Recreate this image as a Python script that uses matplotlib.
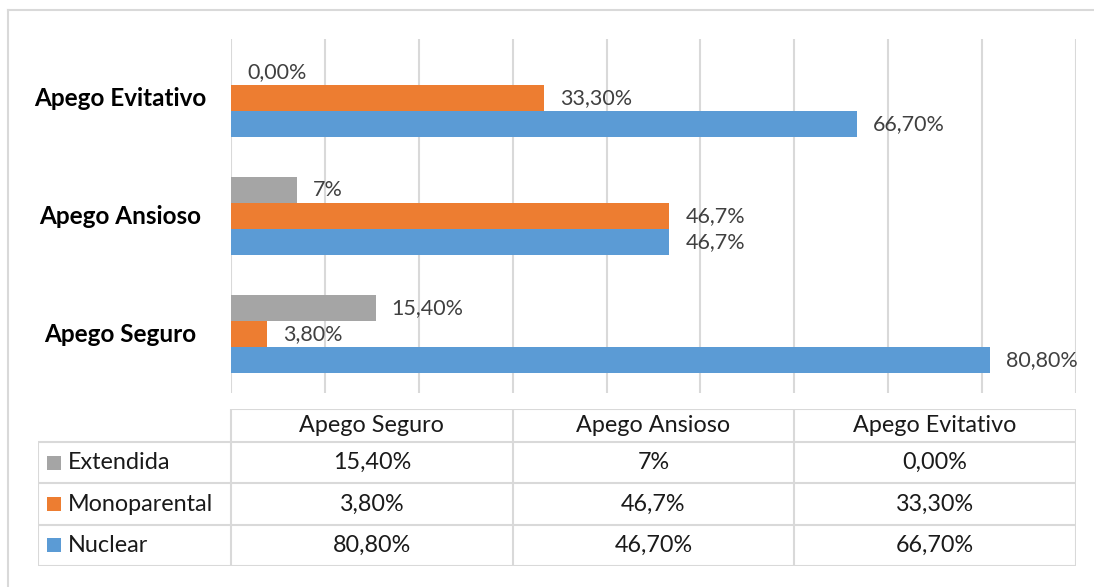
import matplotlib

matplotlib.use("Agg")

import matplotlib.pyplot as plt
import numpy as np
from matplotlib.lines import Line2D

plt.rcParams["font.family"] = ["Lato", "DejaVu Sans"]

# data
categories = ["Apego Seguro", "Apego Ansioso", "Apego Evitativo"]
series = ["Extendida", "Monoparental", "Nuclear"]
extendida = [0.154, 0.07, 0.0]
monoparental = [0.038, 0.467, 0.333]
nuclear = [0.808, 0.467, 0.667]
bar_labels = {
    "Extendida": ["15,40%", "7%", "0,00%"],
    "Monoparental": ["3,80%", "46,7%", "33,30%"],
    "Nuclear": ["80,80%", "46,7%", "66,70%"],
}
table_text = {
    "Extendida": ["15,40%", "7%", "0,00%"],
    "Monoparental": ["3,80%", "46,7%", "33,30%"],
    "Nuclear": ["80,80%", "46,70%", "66,70%"],
}
colors = {"Extendida": "#A5A5A5", "Monoparental": "#ED7D31", "Nuclear": "#5B9BD5"}
values = {"Extendida": extendida, "Monoparental": monoparental, "Nuclear": nuclear}

W, H = 1094, 587
GRID = "#D9D9D9"


def fx(px: float) -> float:
    return px / W


def fy(py: float) -> float:
    return 1 - py / H


fig = plt.figure(figsize=(W / 100, H / 100), dpi=100)

# outer chart frame (left and top visible)
fig.add_artist(Line2D([fx(8), fx(8)], [fy(10), 0], color=GRID, lw=1.5))
fig.add_artist(Line2D([fx(8), 1], [fy(10), fy(10)], color=GRID, lw=1.5))

# bar chart
x0, x1, y0, y1 = 231, 1076, 39, 393
ax = fig.add_axes([fx(x0), fy(y1), fx(x1 - x0), (y1 - y0) / H])
xmax = 0.9
ax.set_xlim(0, xmax)
ax.set_ylim(-0.5, len(categories) - 0.5)

y = np.arange(len(categories))
bar_h = 0.22
offsets = {"Extendida": bar_h, "Monoparental": 0.0, "Nuclear": -bar_h}
for name in series:
    bars = ax.barh(y + offsets[name], values[name], height=bar_h,
                   color=colors[name], zorder=3)
    for b, lab in zip(bars, bar_labels[name]):
        ax.annotate(lab, (b.get_width(), b.get_y() + b.get_height() / 2),
                    xytext=(11.5, 0), textcoords="offset points",
                    ha="left", va="center", fontsize=15.5, color="#404040")

ax.set_xticks(np.arange(0, xmax + 0.001, 0.1))
ax.grid(axis="x", color=GRID, lw=1.5, zorder=0)
ax.tick_params(left=False, bottom=False, labelleft=False, labelbottom=False)
for s in ax.spines.values():
    s.set_visible(False)

for yi, cat in zip(y, categories):
    ax.text(-0.131, yi, cat, transform=ax.get_yaxis_transform(),
            ha="center", va="center", fontsize=17.5, fontweight="bold", color="#000000")

# data table
tl, tt, tb = 38, 409, 566
tax = fig.add_axes([fx(tl), fy(tb), fx(x1 - tl), (tb - tt) / H])
left = (tl - x0) / (x1 - x0) * xmax
tax.set_xlim(left, xmax)
header_h = 0.8
n_rows = len(series)
tax.set_ylim(header_h + n_rows, 0)
tax.axis("off")

col_edges = np.linspace(0, xmax, len(categories) + 1)
tax.hlines(0, 0, xmax, color=GRID, lw=1.5)
for r in range(n_rows + 1):
    tax.hlines(header_h + r, left, xmax, color=GRID, lw=1.5)
tax.vlines(left, header_h, header_h + n_rows, color=GRID, lw=1.5)
for c in col_edges:
    tax.vlines(c, 0, header_h + n_rows, color=GRID, lw=1.5)

centers = (col_edges[:-1] + col_edges[1:]) / 2
for cx, cat in zip(centers, categories):
    tax.text(cx, header_h / 2, cat, ha="center", va="center", fontsize=16.8, color="#1a1a1a")

px_unit = xmax / (x1 - x0)
for r, name in enumerate(series):
    ry = header_h + r + 0.5
    tax.scatter([left + 16.5 * px_unit], [ry], marker="s", s=115, color=colors[name],
                linewidths=0, clip_on=False)
    tax.text(left + 30 * px_unit, ry, name, ha="left", va="center", fontsize=16.8, color="#1a1a1a")
    for cx, txt in zip(centers, table_text[name]):
        tax.text(cx, ry, txt, ha="center", va="center", fontsize=16.8, color="#1a1a1a")

fig.savefig("out.png", dpi=100)
